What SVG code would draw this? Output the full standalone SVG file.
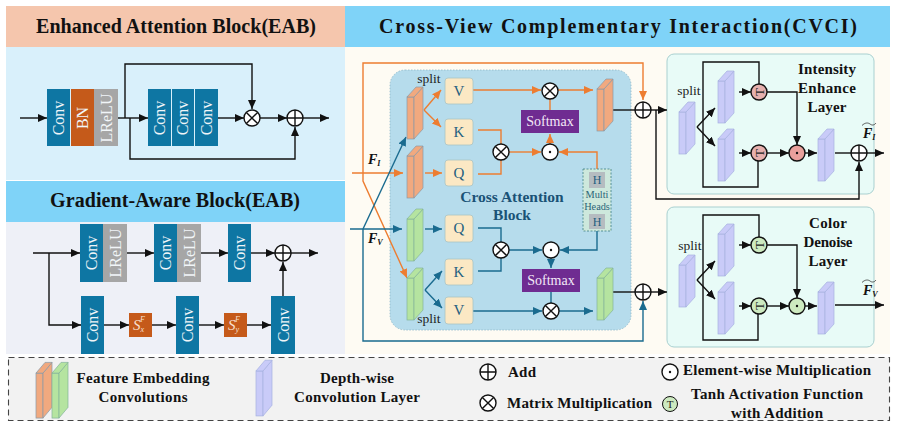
<svg xmlns="http://www.w3.org/2000/svg" width="897" height="429" viewBox="0 0 897 429">
<style>
text{font-family:"Liberation Serif","Times New Roman",serif}
.hd{font-size:20px;font-weight:bold;fill:#111;text-anchor:middle}
.lg{font-size:15px;font-weight:bold;fill:#111;text-anchor:middle}
.ly{font-size:15px;font-weight:bold;fill:#111;text-anchor:middle}
.sp{font-size:13.500px;fill:#222;text-anchor:middle}
.wt{font-size:16px;fill:#f1f5f8;text-anchor:middle}
.qk{font-size:15px;fill:#1f5f7f;text-anchor:middle}
.sm{font-size:14px;fill:#f3e8f7;text-anchor:middle}
.cab{font-size:15.500px;font-weight:bold;fill:#1a5276;text-anchor:middle}
.mh{font-size:10.300px;fill:#2a6478;text-anchor:middle}
.hh{font-size:12px;fill:#1f5f7f;text-anchor:middle}
.fl{font-size:14px;font-weight:bold;font-style:italic;fill:#111}
.s{font-size:15px;font-style:italic;fill:#f8e0cf}
.tt{font-size:13px;fill:#222;text-anchor:middle}
.c{fill:#0e76a3}.o{fill:#c55a1a}.g{fill:#a6a6a6}
.bor{fill:#f1a97f;stroke:#8b9aa6;stroke-width:.7}
.bgr{fill:#b5e4a0;stroke:#84b49a;stroke-width:.7}
.bpu{fill:#c9cbf8;stroke:#a6b2e0;stroke-width:.7}
.box{fill:#fbe8c4;stroke:#a9c4c4;stroke-width:.8}
.k{fill:none;stroke:#111;stroke-width:1.400}
.ko{fill:none;stroke:#ed7d31;stroke-width:1.400}
.kt{fill:none;stroke:#1a6b8f;stroke-width:1.400}
.ah{marker-end:url(#ak)}
.ao{marker-end:url(#ao)}
.at{marker-end:url(#at)}
.op{fill:#fff;stroke:#111;stroke-width:1.400}
.opl{fill:none;stroke:#111;stroke-width:1.400}
.tp{fill:#e6b0ae;stroke:#111;stroke-width:1.400}
.tg{fill:#cdeac0;stroke:#111;stroke-width:1.400}
</style>
<defs>
<marker id="ak" markerUnits="userSpaceOnUse" markerWidth="10" markerHeight="9" refX="9" refY="4" orient="auto"><path d="M0 0L9 4L0 8z" fill="#111"/></marker>
<marker id="ao" markerUnits="userSpaceOnUse" markerWidth="10" markerHeight="9" refX="9" refY="4" orient="auto"><path d="M0 0L9 4L0 8z" fill="#ed7d31"/></marker>
<marker id="at" markerUnits="userSpaceOnUse" markerWidth="10" markerHeight="9" refX="9" refY="4" orient="auto"><path d="M0 0L9 4L0 8z" fill="#1a6b8f"/></marker>
<g id="blk"><rect x="0" y="0" width="7" height="42"/><path d="M7 0L16 -10V32L7 42z"/><path d="M0 0L9 -10H16L7 0z"/></g>
<g id="add"><circle r="8" class="op"/><path d="M-8 0H8M0 -8V8" class="opl"/></g>
<g id="mul"><circle r="8" class="op"/><path d="M-5.600 -5.600L5.600 5.600M5.600 -5.600L-5.600 5.600" class="opl"/></g>
<g id="dot"><circle r="8" class="op"/><circle r="1.200" fill="#111"/></g>
<g id="dotp"><circle r="8" fill="#e9a09c" stroke="#111" stroke-width="1.400"/><circle r="1.200" fill="#111"/></g>
<g id="dotg"><circle r="8" fill="#cdeac0" stroke="#111" stroke-width="1.400"/><circle r="1.200" fill="#111"/></g>
<path id="tld" d="M0 2.500C3 -.5 6 -.5 8 1S12 2.500 14 0" fill="none" stroke="#333" stroke-width=".8"/>
</defs>

<g id="panels">
<rect x="6" y="6" width="339" height="41" fill="#f5c6ad"/>
<rect x="6" y="47" width="339" height="133" fill="#d9f0fb"/>
<rect x="6" y="181" width="339" height="41" fill="#7fd3f8"/>
<rect x="6" y="222" width="339" height="132" fill="#eef0f7"/>
<rect x="345" y="47" width="545" height="307" fill="#fefbf3"/>
<rect x="345" y="6" width="545" height="41" fill="#7fd3f8"/>
<text class="hd" x="176" y="33" textLength="280" lengthAdjust="spacing">Enhanced Attention Block(EAB)</text>
<text class="hd" x="175" y="207" textLength="250" lengthAdjust="spacing">Gradient-Aware Block(EAB)</text>
<text class="hd" x="618" y="33" textLength="478" lengthAdjust="spacing">Cross-View Complementary Interaction(CVCI)</text>
<rect x="390" y="70" width="241" height="260" rx="15" fill="#b6dcec" stroke="#8fb8c8" stroke-width=".8" stroke-dasharray="1.500 1.500"/>
<rect x="667" y="54" width="207" height="140" rx="7" fill="#e8fbf7" stroke="#a9d0d0"/>
<rect x="667" y="207" width="207" height="140" rx="7" fill="#e8fbf7" stroke="#a9d0d0"/>
<rect x="8.500" y="357.500" width="881" height="63" fill="#f2f2f2" stroke="#444" stroke-width="1.100" stroke-dasharray="6 4"/>
</g>

<g id="connectors">
<path class="k ah" d="M20 118H47"/>
<path class="k ah" d="M118 118H148"/>
<path class="k ah" d="M125 118V64H252V109"/>
<path class="k ah" d="M130 118V159H295V127"/>
<path class="k ah" d="M218 118H244"/>
<path class="k ah" d="M260 118H287"/>
<path class="k ah" d="M303 118H329"/>
<path class="k ah" d="M33 253H80"/>
<path class="k ah" d="M49 253V325H81"/>
<path class="k ah" d="M127 253H154"/>
<path class="k ah" d="M201 253H228"/>
<path class="k ah" d="M251 253H275"/>
<path class="k ah" d="M291 253H318"/>
<path class="k ah" d="M104 325H129"/>
<path class="k ah" d="M152 325H176"/>
<path class="k ah" d="M199 325H224"/>
<path class="k ah" d="M247 325H271"/>
<path class="k ah" d="M283 296V262"/>
<path class="ko ao" d="M352 173H403"/>
<path class="ko ao" d="M363 173V63H643V100"/>
<path class="ko ao" d="M363 173V181L407 278"/>
<path class="kt at" d="M350 229H402"/>
<path class="kt at" d="M363 229L406 137"/>
<path class="kt at" d="M363 229V341H643V301"/>
<path class="ko ao" d="M424 110L441 90"/>
<path class="ko ao" d="M424 110L441 127"/>
<path class="ko ao" d="M425 173H442"/>
<path class="ko ao" d="M473 90H541"/>
<path class="ko ao" d="M558 90H593"/>
<path class="ko" d="M550 99V110"/>
<path class="ko" d="M478 130H501V144"/>
<path class="ko" d="M478 174H501V160"/>
<path class="ko ao" d="M509 152H541"/>
<path class="ko ao" d="M550 144V134"/>
<path class="ko ao" d="M597 169V152H559"/>
<path class="kt at" d="M425 229H442"/>
<path class="kt at" d="M425 290L442 271"/>
<path class="kt at" d="M425 290L442 308"/>
<path class="kt" d="M478 228H501V242"/>
<path class="kt" d="M478 271H501V258"/>
<path class="kt at" d="M509 250H542"/>
<path class="kt at" d="M597 231V250H560"/>
<path class="kt at" d="M551 258V268"/>
<path class="kt" d="M551 292V303"/>
<path class="kt at" d="M473 311H542"/>
<path class="kt at" d="M559 311H593"/>
<path class="k" d="M613 110H635"/>
<path class="k" d="M613 292H635"/>
<path class="k ah" d="M651 110H667"/>
<path class="k ah" d="M651 292H667"/>
<path class="k ah" d="M656 110V199H859V162"/>
<path class="k ah" d="M697 127L715 108"/>
<path class="k ah" d="M697 127L715 146"/>
<path class="k" d="M759 84V62H703V187H758V161"/>
<path class="k ah" d="M739 92H751"/>
<path class="k ah" d="M739 153H751"/>
<path class="k ah" d="M767 92H797V145"/>
<path class="k ah" d="M767 153H789"/>
<path class="k ah" d="M805 153H817"/>
<path class="k" d="M835 153H851"/>
<path class="k ah" d="M867 153H884"/>
<path class="k ah" d="M697 280L715 261"/>
<path class="k ah" d="M697 280L715 299"/>
<path class="k" d="M759 237V215H703V340H758V314"/>
<path class="k ah" d="M739 245H751"/>
<path class="k ah" d="M739 306H751"/>
<path class="k ah" d="M767 245H797V298"/>
<path class="k ah" d="M767 306H789"/>
<path class="k ah" d="M805 306H817"/>
<path class="k ah" d="M835 305H884"/>
</g>

<g id="eab-stack1">
<rect class="c" x="47" y="89" width="23" height="57"/><rect class="o" x="71" y="89" width="23" height="57"/><rect class="g" x="94" y="89" width="24" height="57"/>
<text class="wt" transform="translate(64,118) rotate(-90)">Conv</text>
<text class="wt" transform="translate(88,118) rotate(-90)">BN</text>
<text class="wt" transform="translate(112,118) rotate(-90)">LReLU</text>
</g>
<g id="eab-stack2">
<rect class="c" x="148" y="89" width="23" height="57"/><rect class="c" x="172" y="89" width="22" height="57"/><rect class="c" x="195" y="89" width="23" height="57"/>
<text class="wt" transform="translate(165,118) rotate(-90)">Conv</text>
<text class="wt" transform="translate(188,118) rotate(-90)">Conv</text>
<text class="wt" transform="translate(212,118) rotate(-90)">Conv</text>
</g>
<g id="eab-mul"><use href="#mul" x="252" y="118"/></g>
<g id="eab-add"><use href="#add" x="295" y="118"/></g>

<g id="gab-a">
<rect class="c" x="80" y="224" width="23" height="58"/><rect class="g" x="103" y="224" width="24" height="58"/>
<text class="wt" transform="translate(97,253) rotate(-90)">Conv</text>
<text class="wt" transform="translate(121,253) rotate(-90)">LReLU</text>
</g>
<g id="gab-b">
<rect class="c" x="154" y="224" width="23" height="58"/><rect class="g" x="177" y="224" width="24" height="58"/>
<text class="wt" transform="translate(171,253) rotate(-90)">Conv</text>
<text class="wt" transform="translate(195,253) rotate(-90)">LReLU</text>
</g>
<g id="gab-c"><rect class="c" x="228" y="224" width="23" height="58"/><text class="wt" transform="translate(245,253) rotate(-90)">Conv</text></g>
<g id="gab-add"><use href="#add" x="283" y="253"/></g>
<g id="gab-d"><rect class="c" x="81" y="296" width="23" height="58"/><text class="wt" transform="translate(98,325) rotate(-90)">Conv</text></g>
<g id="gab-sx"><rect class="o" x="129" y="313" width="23" height="24"/><text class="s" x="133" y="330">S<tspan font-size="8" dy="2">x</tspan><tspan font-size="8" dx="-4" dy="-10">F</tspan></text></g>
<g id="gab-e"><rect class="c" x="176" y="296" width="23" height="58"/><text class="wt" transform="translate(193,325) rotate(-90)">Conv</text></g>
<g id="gab-sy"><rect class="o" x="224" y="313" width="23" height="24"/><text class="s" x="228" y="330">S<tspan font-size="8" dy="2">y</tspan><tspan font-size="8" dx="-4" dy="-10">F</tspan></text></g>
<g id="gab-f"><rect class="c" x="271" y="296" width="24" height="58"/><text class="wt" transform="translate(289,325) rotate(-90)">Conv</text></g>

<g id="block-i-split"><use href="#blk" x="407" y="97" class="bor"/><text class="sp" x="429" y="83">split</text></g>
<g id="block-i-q"><use href="#blk" x="407" y="156" class="bor"/></g>
<g id="block-i-out"><use href="#blk" x="597" y="89" class="bor"/></g>
<g id="block-v-q"><use href="#blk" x="407" y="219" class="bgr"/></g>
<g id="block-v-split"><use href="#blk" x="407" y="278" class="bgr"/><text class="sp" x="429" y="323">split</text></g>
<g id="block-v-out"><use href="#blk" x="597" y="278" class="bgr"/></g>

<g id="v-i"><rect class="box" x="445" y="78" width="28" height="26" rx="3"/><text class="qk" x="459" y="96">V</text></g>
<g id="k-i"><rect class="box" x="445" y="119" width="28" height="26" rx="3"/><text class="qk" x="459" y="137">K</text></g>
<g id="q-i"><rect class="box" x="445" y="160" width="28" height="26" rx="3"/><text class="qk" x="459" y="178">Q</text></g>
<g id="q-v"><rect class="box" x="445" y="215" width="28" height="27" rx="3"/><text class="qk" x="459" y="233">Q</text></g>
<g id="k-v"><rect class="box" x="445" y="259" width="28" height="26" rx="3"/><text class="qk" x="459" y="277">K</text></g>
<g id="v-v"><rect class="box" x="445" y="297" width="28" height="27" rx="3"/><text class="qk" x="459" y="315">V</text></g>

<g id="softmax-i"><rect x="521" y="110" width="58" height="23" fill="#6f2c91"/><text class="sm" x="550" y="126">Softmax</text></g>
<g id="softmax-v"><rect x="522" y="269" width="58" height="23" fill="#6f2c91"/><text class="sm" x="551" y="285">Softmax</text></g>

<g id="ops-cab">
<use href="#mul" x="550" y="91"/><use href="#mul" x="501" y="152"/><use href="#dot" x="550" y="152"/>
<use href="#mul" x="501" y="250"/><use href="#dot" x="551" y="250"/><use href="#mul" x="551" y="311"/>
</g>

<g id="multi-heads">
<rect x="583" y="169" width="28" height="62" fill="#cde8dc" stroke="#3d7f80" stroke-width=".8" stroke-dasharray="2 1.500"/>
<rect x="589" y="172" width="16" height="16" fill="#b5bcc0"/>
<rect x="589" y="214" width="16" height="15" fill="#b5bcc0"/>
<text class="hh" x="597" y="184">H</text>
<text class="mh" x="597" y="198">Multi</text>
<text class="mh" x="597" y="210">Heads</text>
<text class="hh" x="597" y="226">H</text>
</g>
<text class="cab" x="512" y="202">Cross Attention</text>
<text class="cab" x="512" y="220">Block</text>

<g id="add-i"><use href="#add" x="643" y="110"/></g>
<g id="add-v"><use href="#add" x="643" y="292"/></g>

<g id="intensity-layer">
<use href="#blk" x="679" y="112" class="bpu"/><use href="#blk" x="718" y="81" class="bpu"/><use href="#blk" x="718" y="139" class="bpu"/><use href="#blk" x="818" y="139" class="bpu"/>
<text class="sp" x="689" y="95">split</text>
<circle cx="759" cy="92" r="8" class="tp"/><text class="tt" x="759" y="92" transform="rotate(-90 759 92)" dy="4.500">T</text>
<circle cx="759" cy="153" r="8" class="tp"/><text class="tt" x="759" y="153" transform="rotate(-90 759 153)" dy="4.500">T</text>
<use href="#dotp" x="797" y="153"/>
<text class="ly" x="827" y="74" textLength="58" lengthAdjust="spacing">Intensity</text>
<text class="ly" x="827" y="93" textLength="58" lengthAdjust="spacing">Enhance</text>
<text class="ly" x="827" y="112" textLength="39" lengthAdjust="spacing">Layer</text>
<use href="#add" x="859" y="153"/>
</g>
<g id="color-layer">
<use href="#blk" x="679" y="265" class="bpu"/><use href="#blk" x="718" y="234" class="bpu"/><use href="#blk" x="718" y="292" class="bpu"/><use href="#blk" x="818" y="292" class="bpu"/>
<text class="sp" x="690" y="250">split</text>
<circle cx="759" cy="245" r="8" class="tg"/><text class="tt" x="759" y="245" transform="rotate(-90 759 245)" dy="4.500">T</text>
<circle cx="759" cy="306" r="8" class="tg"/><text class="tt" x="759" y="306" transform="rotate(-90 759 306)" dy="4.500">T</text>
<use href="#dotg" x="797" y="306"/>
<text class="ly" x="828" y="228" textLength="38" lengthAdjust="spacing">Color</text>
<text class="ly" x="828" y="247" textLength="49" lengthAdjust="spacing">Denoise</text>
<text class="ly" x="828" y="266" textLength="39" lengthAdjust="spacing">Layer</text>
</g>

<g id="labels">
<text class="fl" x="368" y="164">F<tspan font-size="8" dy="2">I</tspan></text>
<text class="fl" x="368" y="243">F<tspan font-size="8" dy="2">V</tspan></text>
<text class="fl" x="863" y="138">F<tspan font-size="8" dy="2">I</tspan></text>
<use href="#tld" x="862" y="123"/>
<text class="fl" x="863" y="295">F<tspan font-size="8" dy="2">V</tspan></text>
<use href="#tld" x="862" y="280"/>
</g>

<g id="legend">
<use href="#blk" x="36" y="373" class="bor" transform="translate(0,-26) scale(1,1.070)"/>
<use href="#blk" x="52" y="373" class="bgr" transform="translate(0,-26) scale(1,1.070)"/>
<use href="#blk" x="256" y="371" class="bpu" transform="translate(0,-26) scale(1,1.070)"/>
<text class="lg" x="143" y="383" textLength="133" lengthAdjust="spacing">Feature Embedding</text>
<text class="lg" x="143" y="402" textLength="89" lengthAdjust="spacing">Convolutions</text>
<text class="lg" x="357" y="383" textLength="74" lengthAdjust="spacing">Depth-wise</text>
<text class="lg" x="357" y="402" textLength="126" lengthAdjust="spacing">Convolution Layer</text>
<use href="#add" x="488" y="372"/>
<text class="lg" x="508" y="377" style="text-anchor:start" textLength="28" lengthAdjust="spacing">Add</text>
<use href="#mul" x="488" y="403"/>
<text class="lg" x="507" y="408" style="text-anchor:start" textLength="145" lengthAdjust="spacing">Matrix Multiplication</text>
<use href="#dot" x="670" y="372"/>
<text class="lg" x="683" y="375" style="text-anchor:start" textLength="188" lengthAdjust="spacing">Element-wise Multiplication</text>
<circle cx="670" cy="404" r="7.500" fill="#cdeac0" stroke="#111" stroke-width="1"/>
<text x="670" y="408" font-size="11" fill="#222" text-anchor="middle">T</text>
<text class="lg" x="777" y="399" textLength="172" lengthAdjust="spacing">Tanh Activation Function</text>
<text class="lg" x="777" y="418" textLength="92" lengthAdjust="spacing">with Addition</text>
</g>
</svg>
